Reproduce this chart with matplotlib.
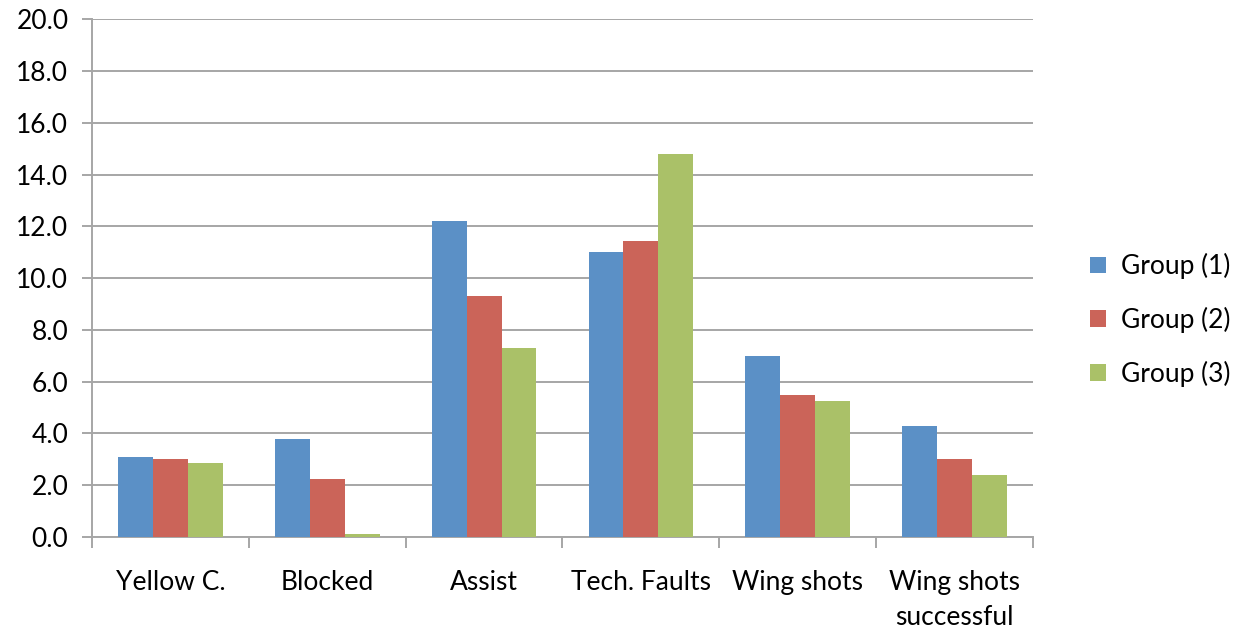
import numpy as np
import matplotlib
matplotlib.use("Agg")
import matplotlib.pyplot as plt

# values
categories = ["Yellow C.", "Blocked", "Assist", "Tech. Faults", "Wing shots",
              "Wing shots\nsuccessful"]
group1 = [3.1, 3.8, 12.2, 11.0, 7.0, 4.3]
group2 = [3.0, 2.25, 9.3, 11.45, 5.5, 3.0]
group3 = [2.85, 0.1, 7.3, 14.8, 5.25, 2.4]
series_names = ["Group (1)", "Group (2)", "Group (3)"]
colors = ["#5B90C6", "#CB6459", "#AAC168"]
yticks = np.arange(0, 21, 2)

plt.rcParams["font.family"] = ["Lato", "DejaVu Sans"]

fig = plt.figure(figsize=(12.38, 6.32), dpi=100)
ax = fig.add_axes([92 / 1238, 95 / 632, (1033 - 92) / 1238, (537 - 19.3) / 632])

x = np.arange(len(categories))
w = 1 / 4.5
for i, (vals, name, c) in enumerate(zip([group1, group2, group3], series_names, colors)):
    ax.bar(x + (i - 1) * w, vals, width=w, color=c, label=name, zorder=3)

ax.set_xlim(-0.5, len(categories) - 0.5)
ax.set_ylim(0, 20)
ax.set_yticks(yticks)
ax.set_yticklabels([f"{v:.1f}" for v in yticks], fontsize=19)
ax.yaxis.grid(True, color="#a6a6a6", linewidth=1.4, zorder=0)

ax.set_xticks(x)
ax.set_xticklabels(categories, fontsize=19, linespacing=1.5)
ax.set_xticks(np.arange(-0.5, len(categories)), minor=True)
ax.tick_params(axis="x", which="major", length=0, pad=24)
ax.tick_params(axis="x", which="minor", length=8, width=1.4, color="#a6a6a6")
ax.tick_params(axis="y", length=7, width=1.4, color="#a6a6a6", pad=10)

for s in ["top", "right"]:
    ax.spines[s].set_visible(False)
for s in ["left", "bottom"]:
    ax.spines[s].set_color("#a6a6a6")
    ax.spines[s].set_linewidth(1.4)

fig.legend(loc="center left", bbox_to_anchor=(1066 / 1238, 1 - 320 / 632),
           frameon=False, fontsize=19, handlelength=0.6, handleheight=0.6,
           handletextpad=0.6, labelspacing=1.05)

fig.savefig("out.png", dpi=100)
